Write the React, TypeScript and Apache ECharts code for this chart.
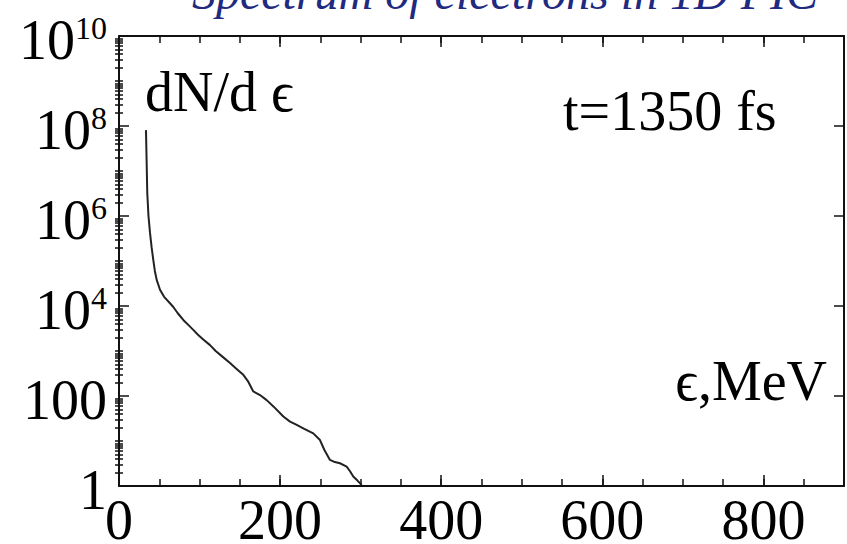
import React, { useEffect, useRef } from 'react';
import * as echarts from 'echarts';

// Electron energy (MeV) and spectrum dN/dε
const energyMeV = [
  33.5, 34.3, 35.1, 36.6, 38.5, 40.5, 42.6, 44.5, 46.8, 50.9, 56, 63.3, 67.4, 73, 79.8,
  86, 92.2, 98, 104.6, 113, 120, 128, 137.8, 146, 154.3, 160, 166.7, 175, 183.3, 192,
  204, 212.3, 220, 230, 241.2, 249.5, 255, 261.9, 268, 274.3, 282.6, 287, 290.8, 296, 301.3,
];
const dNdE = [
  8.1e7, 1.6e7, 3.2e6, 1.0e6, 4.2e5, 2.0e5, 1.05e5, 6.0e4, 3.8e4, 2.3e4, 1.6e4, 1.15e4, 9.5e3, 6.9e3, 4.9e3,
  3.8e3, 2.95e3, 2.3e3, 1.8e3, 1.35e3, 1.0e3, 760, 540, 400, 295, 215, 126, 105, 81, 58,
  35, 27, 23, 18.6, 14.8, 10.5, 6.3, 3.8, 3.4, 3.2, 2.7, 2.1, 1.62, 1.32, 1.05,
];

const xLabelValues = [0, 200, 400, 600, 800];
const yLabelExponents = [0, 2, 4, 6, 8, 10];
const titleText = 'Spectrum of electrons in 1D PIC';
const yLabelText = 'dN/d \u03F5';
const timeText = 't=1350 fs';
const xLabelText = '\u03F5,MeV';

const SERIF = "'Liberation Serif', 'DejaVu Serif', serif";

// helper category axis carries the minor log ticks, in hundredths of a decade
const logSteps = Array.from({ length: 1001 }, (_, i) => String(i));
const minorSet = new Set<number>();
for (let d = 0; d < 10; d++) {
  if (d % 2 === 1) minorSet.add(d * 100);
  for (let k = 2; k <= 9; k++) minorSet.add(Math.round(100 * (d + Math.log10(k))));
}

export default function App() {
  const ref = useRef<HTMLDivElement>(null);
  useEffect(() => {
    if (!ref.current) return;
    const chart = echarts.init(ref.current, undefined, { renderer: 'svg' });
    const lineStyle = { color: '#111', width: 2 };
    const tickStyle = { color: '#111', width: 1.5 };
    const baseX = {
      type: 'value' as const,
      min: 0,
      max: 900,
      gridIndex: 0,
      splitLine: { show: false },
      axisLine: { show: true, onZero: false, lineStyle },
    };
    const logY = {
      type: 'log' as const,
      logBase: 10,
      min: 1,
      max: 1e10,
      interval: 2,
      splitLine: { show: false },
      axisTick: { show: true, inside: true, length: 10, lineStyle: tickStyle },
      axisLine: { show: true, onZero: false, lineStyle },
    };
    const helperY = (position: string) => ({
      type: 'category' as const,
      position,
      data: logSteps,
      boundaryGap: false,
      axisLine: { show: false },
      axisLabel: { show: false },
      splitLine: { show: false },
      axisTick: {
        show: true,
        inside: true,
        length: 4,
        interval: (i: number) => minorSet.has(i),
        lineStyle: tickStyle,
      },
    });
    chart.setOption({
      animation: false,
      backgroundColor: '#fff',
      grid: { left: 119, right: 3, top: 36, bottom: 58, outerBoundsMode: 'none' },
      xAxis: [
        {
          ...baseX,
          position: 'bottom',
          interval: 50,
          axisTick: { show: true, inside: true, length: 7, lineStyle: tickStyle },
          axisLabel: {
            show: true,
            margin: 14,
            fontFamily: SERIF,
            fontSize: 56,
            lineHeight: 40,
            color: '#000',
            formatter: (v: number) => (xLabelValues.includes(v) ? String(v) : ''),
          },
        },
        {
          ...baseX,
          position: 'bottom',
          interval: 200,
          axisLine: { show: false },
          axisTick: { show: true, inside: true, length: 11, lineStyle: tickStyle },
          axisLabel: { show: false },
        },
        {
          ...baseX,
          position: 'top',
          interval: 50,
          axisTick: { show: true, inside: true, length: 7, lineStyle: tickStyle },
          axisLabel: { show: false },
        },
        {
          ...baseX,
          position: 'top',
          interval: 200,
          axisLine: { show: false },
          axisTick: { show: true, inside: true, length: 11, lineStyle: tickStyle },
          axisLabel: { show: false },
        },
      ],
      yAxis: [
        {
          ...logY,
          position: 'left',
          axisLabel: {
            show: true,
            margin: 12,
            padding: [8, 0, 0, 0],
            fontFamily: SERIF,
            fontSize: 56,
            color: '#000',
            formatter: (v: number) => {
              const e = Math.round(Math.log10(v));
              if (!yLabelExponents.includes(e)) return '';
              if (e === 0) return '1';
              if (e === 2) return '100';
              return `{b|10}{s|${e}}`;
            },
            rich: {
              b: { fontFamily: SERIF, fontSize: 56, color: '#000' },
              s: { fontFamily: SERIF, fontSize: 32, color: '#000', verticalAlign: 'top' },
            },
          },
        },
        { ...logY, position: 'right', axisLabel: { show: false } },
        helperY('left'),
        helperY('right'),
      ],
      series: [
        {
          type: 'line',
          xAxisIndex: 0,
          yAxisIndex: 0,
          showSymbol: false,
          smooth: false,
          lineStyle: { color: '#222', width: 2 },
          data: energyMeV.map((x, i) => [x, dNdE[i]]),
        },
      ],
      graphic: [
        {
          type: 'text',
          x: 505,
          y: -8,
          style: {
            text: titleText,
            fontFamily: SERIF,
            fontStyle: 'italic',
            fontSize: 48,
            fill: '#1F2A80',
            align: 'center',
            verticalAlign: 'middle',
          },
        },
        {
          type: 'text',
          x: 145,
          y: 92,
          style: { text: yLabelText, fontFamily: SERIF, fontSize: 56, fill: '#000', align: 'left', verticalAlign: 'middle' },
        },
        {
          type: 'text',
          x: 563,
          y: 111,
          style: { text: timeText, fontFamily: SERIF, fontSize: 56, fill: '#000', align: 'left', verticalAlign: 'middle' },
        },
        {
          type: 'text',
          x: 827,
          y: 381,
          style: { text: xLabelText, fontFamily: SERIF, fontSize: 56, fill: '#000', align: 'right', verticalAlign: 'middle' },
        },
      ],
    });
    return () => chart.dispose();
  }, []);
  return (
    <div
      ref={ref}
      style={{ position: 'fixed', left: 0, top: 0, width: 847, height: 544, background: '#fff' }}
    />
  );
}
